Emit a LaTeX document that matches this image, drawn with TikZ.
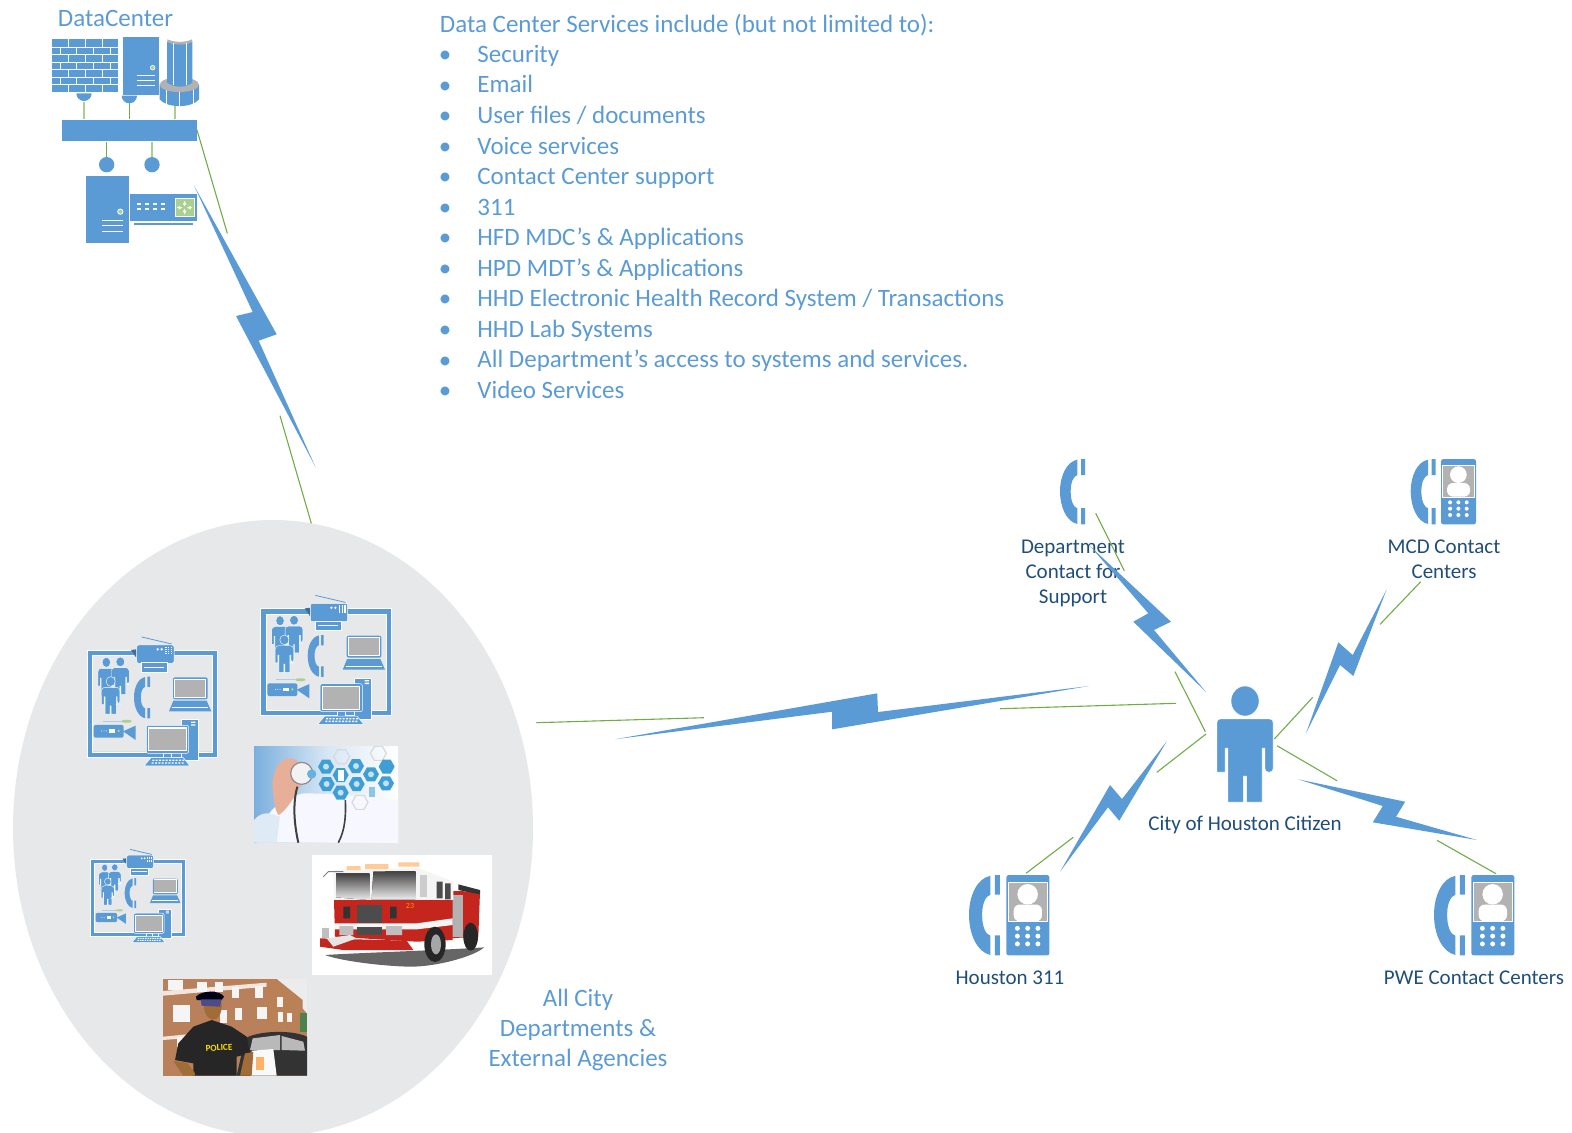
\documentclass[tikz,border=0pt]{standalone}
\usepackage{fontspec}
\setmainfont{Carlito}
\usetikzlibrary{arrows.meta}
\definecolor{ibm}{HTML}{5B9BD5}
\definecolor{lab}{HTML}{1F4E79}
\definecolor{lnk}{HTML}{70AD47}
\definecolor{lgr}{HTML}{A9D18E}
\definecolor{gry}{HTML}{B2B2B2}
\definecolor{oval}{HTML}{E7E8EA}
\definecolor{hexb}{HTML}{3F9FD4}
\definecolor{brick}{HTML}{B9805C}
\definecolor{fired}{HTML}{C4261D}
\newcommand{\hexa}[3]{\fill[#3] (#1-24,#2)--(#1-12,#2-21)--(#1+12,#2-21)--(#1+24,#2)--(#1+12,#2+21)--(#1-12,#2+21)--cycle;}
\tikzset{
  bolt/.style={fill=ibm,draw=none},
  wire/.style={draw=lnk,line width=0.55pt},
  svc/.style={text=ibm,font=\fontsize{12.5}{14}\selectfont,anchor=mid west,inner sep=0pt},
  lbl/.style={text=lab,font=\fontsize{10.5}{12}\selectfont,anchor=base,inner sep=0pt},
  blu/.style={text=ibm,font=\fontsize{12.5}{14}\selectfont,anchor=center,inner sep=0pt},
  wh/.style={draw=white,line width=0.25pt},
  pics/handsetp/.style={code={
    \fill[ibm] (52,2) .. controls (20,8) and (0,50) .. (0,97) .. controls (0,145) and (20,188) .. (52,195)
      -- (52,148) .. controls (40,145) and (32,125) .. (32,97) .. controls (32,70) and (40,52) .. (52,48) -- cycle;
    \fill[ibm] (63,0) rectangle (75,48) (63,147) rectangle (75,196);
  }},
  pics/deskphone/.style={code={
    \pic[transform shape] at (0,0) {handsetp};
    \fill[ibm,rounded corners=1.2pt] (91,0) rectangle (196,196);
    \fill[gry,draw=white,line width=0.3pt] (95,18) rectangle (192,114);
    \fill[white] (143,47) circle (25);
    \fill[white,rounded corners=3pt] (109,113) -- (109,72) -- (178,72) -- (178,113) -- cycle;
    \foreach \a in {118,143,168}{\foreach \b in {130,149,168}{\fill[white] (\a,\b) circle (6);}}
  }},
  pics/citizenp/.style={code={
    \fill[ibm,draw=white,line width=0.2pt] (0,15) ellipse (14 and 15);
    \fill[ibm,draw=white,line width=0.2pt,rounded corners=1.6pt] (-28,86) -- (-28,33) -- (28,33) -- (28,86) -- (20,86) [sharp corners] -- (20,62) -- (17,62) -- (17,116) -- (1.6,116) -- (1.6,90) -- (-1.6,90) -- (-1.6,116) -- (-17,116) -- (-17,62) -- (-20,62) -- (-20,86) -- cycle;
  }},
  pics/workgroup/.style={code={
    \fill[ibm,draw=white,line width=0.25pt,even odd rule] (0,0) rectangle (392,321) (16,16) rectangle (376,305);
    % fax
    \draw[ibm,line width=0.4pt] (164,-40) -- (254,-19);
    \fill[ibm!70!black] (132,-1) -- (149,-3) -- (149,24) -- cycle;
    \fill[ibm,wh,rounded corners=1pt] (149,-16) rectangle (261,39);
    \fill[ibm,wh] (163,37) rectangle (241,66);
    \draw[white,line width=0.3pt] (172,51) -- (232,51);
    \fill[white] (212,-3) circle (4) (224,-3) circle (4);
    \foreach \a in {237,245,253}{\foreach \b in {-8,-2,4,10}{\fill[white] (\a-2,\b-2) rectangle (\a+2,\b+2);}}
    % people
    \pic[transform shape,xscale=.9,yscale=1] at (58,21) {citizenp};
    \pic[transform shape,xscale=.95,yscale=.97] at (100,20) {citizenp};
    \pic[transform shape,xscale=.98,yscale=.97] at (71,79) {citizenp};
    % handset
    \pic[transform shape,scale=.64] at (141,79) {handsetp};
    % laptop
    \fill[ibm,rounded corners=1pt] (258,81) rectangle (362,147);
    \fill[white] (262,85) rectangle (358,143);
    \fill[gry] (265,89) rectangle (355,139);
    \fill[ibm] (259,151) -- (359,151) -- (373,183) -- (246,183) -- cycle;
    \draw[white,line width=0.3pt] (256,172) -- (364,172);
    % camera
    \draw[ibm!50,line width=0.25pt] (47,213) -- (104,213);
    \fill[lgr,rounded corners=1pt] (104,209) rectangle (134,217);
    \fill[ibm,rounded corners=1pt] (20,224) rectangle (110,262);
    \fill[ibm] (108,243) -- (146,226) -- (146,269) -- cycle;
    \fill[white] (66,237) rectangle (84,248);
    \fill[lgr] (95,242) circle (4);
    \foreach \a in {44,51,58}{\fill[white] (\a,242) circle (1.5);}
    % desktop
    \fill[ibm,wh] (282,208) rectangle (333,331);
    \fill[white] (312,214) rectangle (325,218) (312,222) rectangle (325,226);
    \fill[ibm,wh] (229,309) rectangle (254,324);
    \fill[ibm,wh,rounded corners=1pt] (178,225) rectangle (305,309);
    \fill[white] (184,231) rectangle (299,303);
    \fill[gry] (187,235) rectangle (296,300);
    \fill[ibm,wh] (192,322) -- (289,322) -- (309,347) -- (171,347) -- cycle;
    \foreach \a in {196,206,...,286}{\fill[white] (\a,328) rectangle (\a+6,332) (\a-2,336) rectangle (\a+4,340);}
  }}
}
\begin{document}
\begin{tikzpicture}[x=0.5pt,y=-0.5pt]
\useasboundingbox (0,0) rectangle (1572,1132);
% --- department oval
\fill[oval] (273,828) ellipse (260 and 308);
% --- data center group
\node[blu] (dclabel) at (115.5,18.5) {DataCenter};
\begin{scope}[shift={(30,0)},scale=1/3]
  \draw[lgr,line width=0.7pt] (162,305) -- (162,358) (435,315) -- (435,358) (366,424) -- (366,474);
  \draw[lnk,line width=0.7pt] (298,305) -- (298,358) (230,424) -- (230,474);
  \fill[ibm] (65,118) rectangle (265,277);
  \foreach \k in {1,...,6}{\draw[white,line width=0.3pt] (65,118+\k*22.7) -- (265,118+\k*22.7);}
  \foreach \k in {0,2,4,6}{\foreach \a in {116,166,216}{\draw[white,line width=0.35pt] (\a,118+\k*22.7) -- (\a,118+\k*22.7+22.7);}}
  \foreach \k in {1,3,5}{\foreach \a in {90,140,190,240}{\draw[white,line width=0.35pt] (\a,118+\k*22.7) -- (\a,118+\k*22.7+22.7);}}
  \fill[ibm] (139,280) arc (180:0:23) -- cycle;
  \fill[ibm] (278,110) rectangle (388,284);
  \fill[lgr,draw=white,line width=0.3pt] (368,203) circle (7);
  \foreach \b in {227,241,255}{\draw[white,line width=0.35pt] (320,\b) -- (375,\b);}
  \fill[ibm] (275,287) arc (180:0:23) -- cycle;
  \fill[ibm] (389,255) -- (389,298) .. controls (410,325) and (486,325) .. (507,298) -- (507,255) -- cycle;
  \foreach \a in {410,449,490}{\draw[white,line width=0.35pt] (\a,260) -- (\a,318);}
  \fill[gry] (448,254) ellipse (59 and 22);
  \fill[ibm] (411,124) .. controls (435,134) and (465,134) .. (487,124) -- (487,248) .. controls (465,264) and (435,264) .. (411,248) -- cycle;
  \fill[gry] (412,118) .. controls (435,128) and (465,128) .. (486,118) -- (486,126) .. controls (465,136) and (435,136) .. (412,126) -- cycle;
  \draw[white,line width=0.35pt] (430,130) -- (430,256) (468,130) -- (468,256);
  \fill[ibm,draw=white,line width=0.2pt] (95,358) rectangle (501,424);
  \fill[ibm] (230,494) circle (23) (366,494) circle (23);
  \fill[ibm] (167,528) rectangle (296,729);
  \fill[lgr,draw=white,line width=0.4pt] (271,635) circle (8);
  \foreach \b in {662,677,693}{\draw[white,line width=0.35pt] (216,\b) -- (280,\b);}
  \fill[ibm] (300,583) rectangle (500,662);
  \fill[ibm] (313,669) rectangle (490,674);
  \foreach \a in {328,352,376,398}{\foreach \b in {613,628}{\fill[white] (\a-6,\b-3) rectangle (\a+6,\b+3);}}
  \fill[lgr,draw=white,line width=0.4pt] (436,596) rectangle (492,650);
  \draw[white,line width=0.3pt,-{Latex[length=2pt,width=2pt]}] (464,618) -- (464,602);
  \draw[white,line width=0.3pt,-{Latex[length=2pt,width=2pt]}] (464,628) -- (464,644);
  \draw[white,line width=0.3pt,{Latex[length=2pt,width=2pt]}-] (458,623) -- (442,623);
  \draw[white,line width=0.3pt,{Latex[length=2pt,width=2pt]}-] (470,623) -- (486,623);
\end{scope}
% --- services list
\node[svc] (svchead) at (439.5,27.5) {Data Center Services include (but not limited to):};
\foreach \t [count=\i from 0] in {Security,Email,User files / documents,Voice services,Contact Center support,311,HFD MDC’s \& Applications,HPD MDT’s \& Applications,HHD Electronic Health Record System / Transactions,HHD Lab Systems,All Department’s access to systems and services.,Video Services}{
  \node[blu] (bul\i) at (445,56.8+\i*30.55) {•};
  \node[svc] (svc\i) at (477,57.6+\i*30.55) {\t};
}
% --- workgroups
\pic[scale=1/3] (wgA) at (87,650.3) {workgroup};
\pic[scale=1/3] (wgB) at (260.7,608.7) {workgroup};
\pic[scale=.2407] (wgC) at (90.7,859) {workgroup};
% --- health photo
\begin{scope}[shift={(70,580)},scale=1/3]
  \begin{scope}
    \clip (552,498) rectangle (984,788);
    \fill[left color=ibm!80!white,right color=white,middle color=ibm!25!white] (552,498) rectangle (984,788);
    \fill[white!97!blue] (560,788) .. controls (580,700) and (620,660) .. (700,640) .. controls (780,640) and (900,650) .. (984,660) -- (984,788) -- cycle;
    \fill[white!80!ibm] (552,788) -- (552,720) .. controls (580,690) and (600,700) .. (630,710) -- (620,788) -- cycle;
    \fill[brown!40!pink!90!white] (610,640) .. controls (600,590) and (620,545) .. (650,535) .. controls (690,530) and (700,560) .. (690,620) .. controls (670,660) and (640,700) .. (625,705) .. controls (615,690) and (612,665) .. (610,640) -- cycle;
    \draw[black!75,line width=1pt] (682,620) .. controls (668,670) and (672,730) .. (685,788);
    \draw[black!75,line width=.8pt] (826,660) .. controls (828,710) and (825,750) .. (805,788);
    \fill[white!90!gray,draw=black!45,line width=.6pt] (695,580) circle (33);
    \fill[hexb!80] (725,582) circle (14);
    \foreach \x/\y in {870/667,925/520,815/530}{\draw[gray!30,line width=.6pt] (\x-24,\y)--(\x-12,\y-21)--(\x+12,\y-21)--(\x+24,\y)--(\x+12,\y+21)--(\x-12,\y+21)--cycle;}
    \foreach \x/\y in {768/560,858/558,903/583,770/612,812/638,860/612,948/610,812/585,950/560}{\hexa{\x}{\y}{hexb}}
    \foreach \x/\y in {768/560,858/558,903/583,770/612,812/638,860/612,948/610}{\fill[white!70!hexb] (\x,\y) circle (9);}
    \fill[white] (804,570) rectangle (822,602);
    \fill[hexb!60] (898,620) rectangle (915,650);
  \end{scope}
\end{scope}
% --- fire engine and police photos
\begin{scope}[shift={(80,840)},scale=1/3]
  \fill[white] (696,45) rectangle (1236,405);
  \fill[black!60] (735,345) .. controls (800,340) and (1100,330) .. (1212,322) .. controls (1190,345) and (1080,380) .. (990,380) .. controls (900,378) and (780,362) .. (735,345) -- cycle;
  % rear body
  \fill[fired] (1015,150) -- (1200,155) -- (1195,290) -- (1015,300) -- cycle;
  \fill[gray!60] (1115,165) rectangle (1150,290);
  \fill[black!80] (1135,133) -- (1200,150) -- (1200,163) -- (1135,150) -- cycle;
  % cab
  \fill[white!92!gray] (760,90) -- (1015,85) -- (1120,125) -- (1120,180) -- (762,180) -- cycle;
  \fill[fired] (762,180) -- (1020,180) -- (1118,180) -- (1118,300) -- (1010,305) -- (765,290) -- cycle;
  \fill[white!92!gray] (762,250) -- (1010,250) -- (1118,235) -- (1118,255) -- (1010,268) -- (762,268) -- cycle;
  \fill[top color=black!75,bottom color=white!85!gray] (768,100) -- (868,100) -- (868,180) -- (768,172) -- cycle;
  \fill[top color=black!75,bottom color=white!85!gray] (880,95) -- (1006,93) -- (1006,178) -- (875,178) -- cycle;
  \fill[black!70] (1070,125) rectangle (1088,175) (1095,130) rectangle (1112,178);
  \fill[white!60!gray] (1020,105) rectangle (1042,170);
  \fill[black!70] (830,195) rectangle (905,248);
  \fill[black!80] (790,200) rectangle (810,235) (930,200) rectangle (950,235);
  \fill[black!70] (830,260) rectangle (905,285);
  \fill[gray!50] (778,258) rectangle (820,285) (918,258) rectangle (966,285);
  \fill[orange!40!white] (800,78) rectangle (842,90) (855,72) rectangle (925,87) (955,67) rectangle (1018,80);
  \draw[gray,line width=.5pt] (730,110) -- (745,95) -- (790,95);
  % bumper
  \fill[fired] (720,295) -- (980,302) -- (1000,330) -- (790,330) -- (720,320) -- cycle;
  \fill[gray!50] (725,265) rectangle (748,295);
  \fill[white!80!gray] (740,295) -- (810,285) -- (830,295) -- (760,320) -- cycle;
  % wheels
  \fill[black!85] (1065,313) ellipse (32 and 53);
  \fill[gray!70] (1068,313) ellipse (15 and 30);
  \fill[black!85] (1172,290) ellipse (22 and 42);
  \node[text=orange!85!yellow,font=\fontsize{4}{4}\selectfont,inner sep=0pt] (enginenum) at (990,198) {23};
  % police photo
  \begin{scope}
    \clip (249,417) rectangle (681,707);
    \fill[brick] (249,417) rectangle (681,707);
    \fill[white!85!gray] (590,417) -- (681,417) -- (681,520) -- cycle;
    \fill[brick!80!brown] (560,417) -- (590,417) -- (668,480) -- (668,560) -- (560,560) -- cycle;
    \fill[white!80!brick] (249,453) -- (560,428) -- (560,440) -- (249,467) -- cycle;
    \fill[white!80!brick] (249,590) -- (350,580) -- (350,592) -- (249,600) -- cycle;
    \foreach \a/\b/\w/\h in {265/420/45/30,350/425/30/30,405/425/25/30,280/495/50/50,455/440/22/35,525/438/25/35,465/505/22/35,530/500/30/38,595/515/15/30,620/520/15/26,420/510/22/38,590/470/18/30,290/590/22/30}{\fill[white!92!gray] (\a,\b) rectangle (\a+\w,\b+\h);}
    \fill[green!30!black!70] (660,520) rectangle (681,575);
    \fill[black!80] (495,595) .. controls (540,570) and (640,570) .. (681,590) -- (681,707) -- (470,707) -- cycle;
    \fill[gray!55] (518,595) -- (600,585) -- (600,630) -- (510,630) -- cycle;
    \fill[gray!55] (605,588) -- (670,605) -- (675,632) -- (605,630) -- cycle;
    \fill[white!95!gray] (515,632) -- (580,627) -- (590,707) -- (512,707) -- cycle;
    \fill[orange!60] (528,650) rectangle (552,690);
    \fill[brown!85!black] (372,490) .. controls (368,550) and (428,560) .. (425,490) -- cycle;
    \fill[black!85] (340,560) -- (395,540) -- (455,560) -- (500,590) -- (510,640) -- (470,650) -- (470,707) -- (340,707) -- (340,670) -- (285,660) -- (295,610) -- cycle;
    \fill[brown!85!black] (280,663) -- (322,668) -- (345,700) -- (345,707) -- (310,707) -- cycle;
    \fill[brown!85!black] (495,640) -- (520,636) -- (515,707) -- (480,707) -- cycle;
    \fill[black!90!blue] (348,470) .. controls (365,450) and (420,450) .. (432,470) -- (425,480) -- (350,480) -- cycle;
    \fill[blue!35!black!70] (362,478) -- (425,478) -- (420,500) -- (365,497) -- cycle;
    \node[text=yellow!80!orange,font=\fontsize{4.6}{5}\bfseries\selectfont,inner sep=0pt,rotate=3] (policetxt) at (417,623) {POLICE};
  \end{scope}
\end{scope}
\node[blu] (deptA) at (578,1000) {All City};
\node[blu] (deptB) at (578,1030) {Departments \&};
\node[blu] (deptC) at (578,1060) {External Agencies};
% --- phones and citizen
\pic[scale=1/3] (deptphone) at (1060,459) {handsetp};
\pic[scale=1/3] (mcdphone) at (1410.7,459) {deskphone};
\pic[scale=.41] (hou311) at (969,875) {deskphone};
\pic[scale=.41] (pwephone) at (1434,875) {deskphone};
\pic (citizen) at (1245,686) {citizenp};
\node[lbl] (lbDeptA) at (1073,553) {Department};
\node[lbl] (lbDeptB) at (1073,578) {Contact for};
\node[lbl] (lbDeptC) at (1073,603) {Support};
\node[lbl] (lbMcdA) at (1444,553) {MCD Contact};
\node[lbl] (lbMcdB) at (1444,578) {Centers};
\node[lbl] (lbCit) at (1245,830) {City of Houston Citizen};
\node[lbl] (lbHou) at (1010,984.7) {Houston 311};
\node[lbl] (lbPwe) at (1474,984.7) {PWE Contact Centers};
% --- link anchors
\coordinate (a1) at (197,130); \coordinate (a2) at (227.3,233.3);
\coordinate (b1) at (280,415.7); \coordinate (b2) at (311.3,523.3);
\coordinate (c1) at (536.3,722.7); \coordinate (c2) at (703.8,717.7);
\coordinate (d1) at (1000,708.7); \coordinate (d2) at (1176,703.3);
\coordinate (e1) at (1095.7,513.3); \coordinate (e2) at (1124.3,570.7);
\coordinate (f1) at (1175,671.7); \coordinate (f2) at (1205.3,731.7);
\coordinate (g1) at (1420.7,581.7); \coordinate (g2) at (1380,624.3);
\coordinate (h1) at (1312.7,697.3); \coordinate (h2) at (1274.3,739);
\coordinate (i1) at (1206,734); \coordinate (i2) at (1156.8,772.3);
\coordinate (j1) at (1073.2,837.3); \coordinate (j2) at (1026,873.3);
\coordinate (k1) at (1277,745.7); \coordinate (k2) at (1337,780.7);
\coordinate (l1) at (1437,840.3); \coordinate (l2) at (1496,873.7);
\foreach \p/\q in {a1/a2,b1/b2,c1/c2,d1/d2,e1/e2,f1/f2,g1/g2,h1/h2,i1/i2,j1/j2,k1/k2,l1/l2}{\draw[wire] (\p) -- (\q);}
% --- lightning bolts
\fill[bolt] (194,185.5) -- (276.7,334.3) -- (258.7,340.7) -- (315.5,467) -- (236,316) -- (252.7,312) -- cycle;
\fill[bolt] (615,739.2) -- (877.2,693.3) -- (878,712) -- (1089,686) -- (832.2,729.3) -- (832.2,711.7) -- cycle;
\fill[bolt] (1090,546) -- (1171,621.7) -- (1154,630) -- (1206,692) -- (1133.3,621.7) -- (1148.3,613.3) -- cycle;
\fill[bolt] (1386.7,589.3) -- (1353.3,676) -- (1340,665) -- (1306,733.3) -- (1338.3,642.3) -- (1352.7,655) -- cycle;
\fill[bolt] (1167,741) -- (1119.2,820.7) -- (1108,807.3) -- (1060,871.7) -- (1110,785) -- (1122,799) -- cycle;
\fill[bolt] (1298,779.3) -- (1405.2,801.7) -- (1396,816.7) -- (1477,840) -- (1372.8,822.3) -- (1382.8,806) -- cycle;
\end{tikzpicture}
\end{document}
